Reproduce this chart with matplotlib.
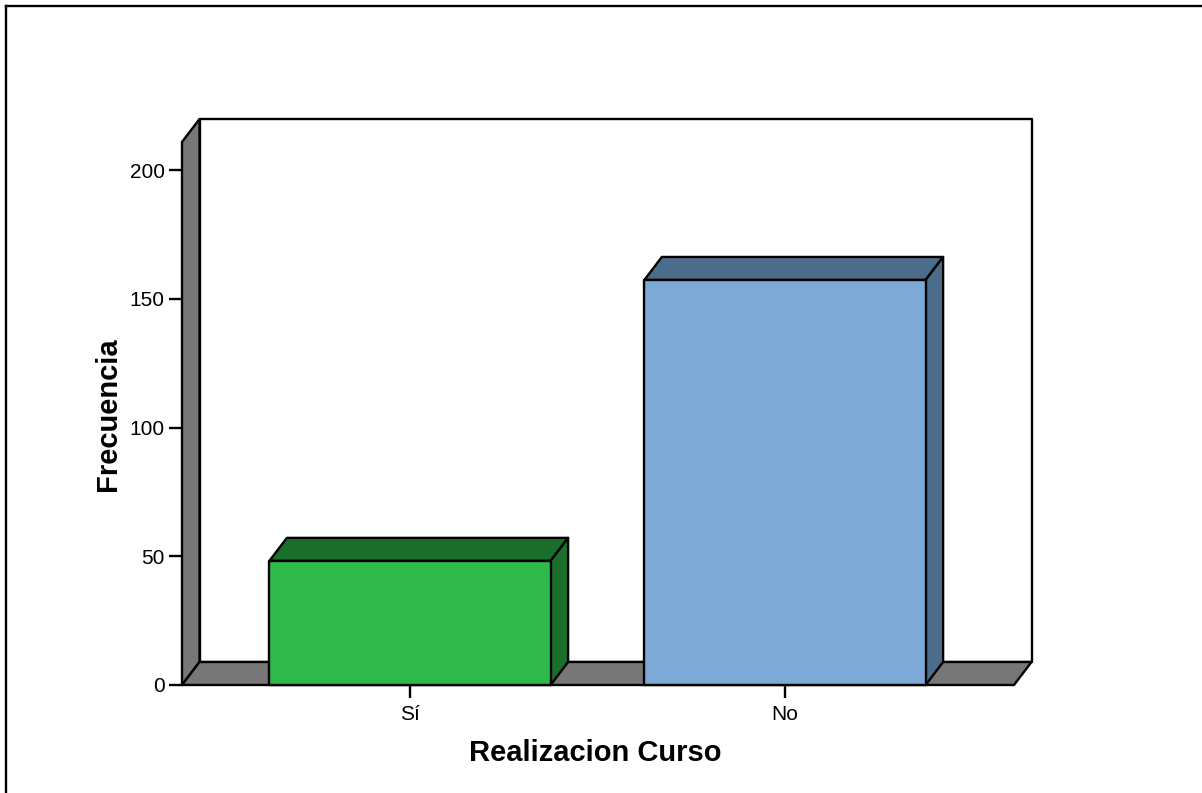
import matplotlib
matplotlib.use("Agg")
import matplotlib.pyplot as plt
from matplotlib.patches import Polygon
from matplotlib.lines import Line2D

plt.rcParams['font.family'] = ['Liberation Sans', 'DejaVu Sans']

# datos del grafico
categorias = ["Sí", "No"]
frecuencias = [48.2, 157.3]
colores_frente = ["#2FB94A", "#7DA9D6"]
colores_techo = ["#1C6E2C", "#4C6C8C"]
yticks = [0, 50, 100, 150, 200]

W, H = 1202, 793
LW = 1.7
GRIS = "#777777"

fig = plt.figure(figsize=(W / 100, H / 100), dpi=100)

# ejes en pixeles de la imagen original
left, right, top, bottom = 182, 1014, 142, 685
ax = fig.add_axes([left / W, 1 - bottom / H, (right - left) / W, (bottom - top) / H])

px_x = 375.0  # pixeles por categoria
px_y = 2.575  # pixeles por unidad de frecuencia
ax.set_xlim((left - 410) / px_x, (right - 410) / px_x)
ax.set_ylim(0, (bottom - top) / px_y)

# profundidad 3D
dx = 17.5 / px_x
dy = 23 / px_y
x0, x1 = ax.get_xlim()
y0, y1 = ax.get_ylim()


def poly(pts, color, z):
    ax.add_patch(Polygon(pts, closed=True, facecolor=color, edgecolor="black",
                         linewidth=LW, joinstyle="round", zorder=z, clip_on=False))


# pared del fondo, pared izquierda y suelo
poly([(x0 + dx, y0 + dy), (x1 + dx, y0 + dy), (x1 + dx, y1 + dy), (x0 + dx, y1 + dy)], "white", 1)
poly([(x0, y0), (x0 + dx, y0 + dy), (x0 + dx, y1 + dy), (x0, y1)], GRIS, 2)
poly([(x0, y0), (x0 + dx, y0 + dy), (x1 + dx, y0 + dy), (x1, y0)], GRIS, 2)

# barras
ancho = 0.75
for i, v in enumerate(frecuencias):
    a = i - ancho / 2
    b = i + ancho / 2
    poly([(a, v), (a + dx, v + dy), (b + dx, v + dy), (b, v)], colores_techo[i], 3)
    poly([(b, 0), (b + dx, dy), (b + dx, v + dy), (b, v)], colores_techo[i], 3)
    poly([(a, 0), (b, 0), (b, v), (a, v)], colores_frente[i], 4)

for s in ax.spines.values():
    s.set_visible(False)
ax.patch.set_visible(False)

ax.set_xticks(range(len(categorias)))
ax.set_xticklabels(categorias)
ax.set_yticks(yticks)
ax.tick_params(axis="both", length=9.5, width=LW, labelsize=15, color="black")
ax.tick_params(axis="x", pad=5)
ax.tick_params(axis="y", pad=3)

fig.text(595 / W, 1 - 753 / H, "Realizacion Curso", fontsize=21, fontweight="bold",
         ha="center", va="center")
fig.text(108 / W, 1 - 414 / H, "Frecuencia", fontsize=21, fontweight="bold",
         ha="center", va="center", rotation=90)

# marco exterior: solo arriba e izquierda
fig.add_artist(Line2D([6 / W, 6 / W], [0, 1 - 6 / H], color="black", linewidth=LW))
fig.add_artist(Line2D([6 / W, 1], [1 - 6 / H, 1 - 6 / H], color="black", linewidth=LW))

fig.savefig("out.png", dpi=100)
